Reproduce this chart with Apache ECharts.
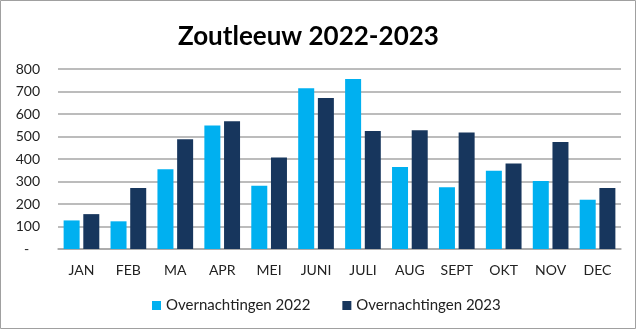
<!DOCTYPE html>
<html>
<head>
<meta charset="utf-8">
<script src="https://cdn.jsdelivr.net/npm/echarts@6/dist/echarts.min.js"></script>
<style>
  html, body { margin: 0; padding: 0; background: #fff; }
  #chart { width: 640px; height: 330px; }
</style>
</head>
<body>
<div id="chart"></div>
<script>
const months = ['JAN', 'FEB', 'MA', 'APR', 'MEI', 'JUNI', 'JULI', 'AUG', 'SEPT', 'OKT', 'NOV', 'DEC'];
const nights2022 = [127, 123, 355, 549, 281, 715, 756, 365, 275, 348, 302, 219];
const nights2023 = [155, 271, 488, 568, 407, 671, 525, 528, 518, 380, 476, 271];
const seriesNames = ['Overnachtingen 2022', 'Overnachtingen 2023'];

const FONT = 'Lato';
const chart = echarts.init(document.getElementById('chart'), null, { renderer: 'canvas' });

chart.setOption({
  backgroundColor: '#ffffff',
  animation: false,
  title: {
    text: 'Zoutleeuw 2022-2023',
    left: 173,
    top: 19,
    textStyle: { fontFamily: FONT, fontWeight: 'bold', fontSize: 26, color: '#000' }
  },
  graphic: [{
    type: 'rect',
    shape: { x: 0.5, y: 0.5, width: 635, height: 328 },
    style: { fill: 'none', stroke: '#a0a0a0', lineWidth: 1 },
    silent: true
  }],
  legend: {
    data: seriesNames,
    top: 293,
    left: 147,
    itemWidth: 9,
    itemHeight: 9,
    itemGap: 32,
    icon: 'rect',
    textStyle: { fontFamily: FONT, fontSize: 15, color: '#222' }
  },
  grid: { left: 58, right: 19, top: 69, bottom: 81 },
  xAxis: {
    type: 'category',
    data: months,
    axisTick: { show: false },
    axisLine: { lineStyle: { color: '#a6a6a6', width: 1.5 } },
    axisLabel: { fontFamily: FONT, fontSize: 14, color: '#222', margin: 14 }
  },
  yAxis: {
    type: 'value',
    min: 0,
    max: 800,
    interval: 100,
    axisLine: { show: false },
    axisTick: { show: false },
    splitLine: { lineStyle: { color: '#a6a6a6', width: 1.5 } },
    axisLabel: {
      fontFamily: FONT, fontSize: 14, color: '#222', margin: 18,
      formatter: v => v === 0 ? '-   ' : String(v)
    }
  },
  series: [
    {
      name: seriesNames[0],
      type: 'bar',
      data: nights2022,
      barWidth: 16,
      barGap: '23%',
      itemStyle: { color: '#00b0f0' }
    },
    {
      name: seriesNames[1],
      type: 'bar',
      data: nights2023,
      barWidth: 16,
      itemStyle: { color: '#17365d' }
    }
  ]
});
</script>
</body>
</html>
